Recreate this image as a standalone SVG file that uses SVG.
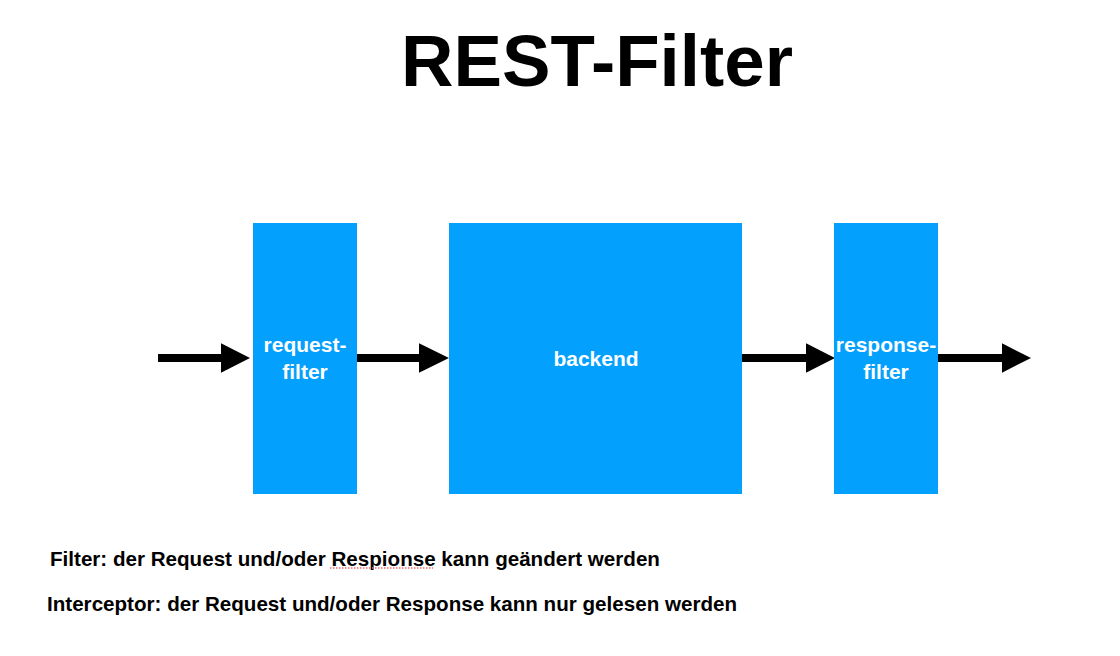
<svg xmlns="http://www.w3.org/2000/svg" width="1120" height="656" viewBox="0 0 1120 656">
  <style>
    .box { fill: #03A0FE; }
    .lbl { font-family: "Liberation Sans", Arial, Helvetica, sans-serif; font-weight: bold; font-size: 21px; fill: #ffffff; text-anchor: middle; }
    .note { font-family: "Liberation Sans", Arial, Helvetica, sans-serif; font-weight: bold; font-size: 20.6px; fill: #000000; }
    .title { font-family: "Liberation Sans", Arial, Helvetica, sans-serif; font-weight: bold; font-size: 73px; fill: #000000; }
    .shaft { stroke: #000000; stroke-width: 8; fill: none; }
    .head { fill: #000000; }
  </style>
  <rect width="1120" height="656" fill="#ffffff"/>
  <text class="title" x="401" y="86" textLength="392" lengthAdjust="spacingAndGlyphs">REST-Filter</text>

  <g id="connectors">
    <g id="arrow-in">
      <line class="shaft" x1="158" y1="358" x2="223" y2="358"/>
      <polygon class="head" points="221,343.3 250,358 221,372.7"/>
    </g>
    <g id="arrow-req-backend">
      <line class="shaft" x1="357" y1="358" x2="421" y2="358"/>
      <polygon class="head" points="419,343.3 449,358 419,372.7"/>
    </g>
    <g id="arrow-backend-resp">
      <line class="shaft" x1="742" y1="358" x2="808" y2="358"/>
      <polygon class="head" points="806,343.3 835,358 806,372.7"/>
    </g>
    <g id="arrow-out">
      <line class="shaft" x1="938" y1="358" x2="1004" y2="358"/>
      <polygon class="head" points="1002,343.3 1031,358 1002,372.7"/>
    </g>
  </g>

  <g id="request-filter">
    <rect class="box" x="253" y="223" width="104" height="271"/>
    <text class="lbl" x="305" y="352">request-</text>
    <text class="lbl" x="305" y="379">filter</text>
  </g>
  <g id="backend">
    <rect class="box" x="449" y="223" width="293" height="271"/>
    <text class="lbl" x="596" y="366">backend</text>
  </g>
  <g id="response-filter">
    <rect class="box" x="834" y="223" width="104" height="271"/>
    <text class="lbl" x="886" y="352">response-</text>
    <text class="lbl" x="886" y="379">filter</text>
  </g>

  <g id="notes">
    <text class="note" x="50" y="565.5">Filter: der Request und/oder Respionse kann geändert werden</text>
    <line x1="330" y1="568" x2="433" y2="568" stroke="#f06a6a" stroke-width="1.5" stroke-dasharray="1.5,1.5"/>
    <text class="note" x="47" y="610.5">Interceptor: der Request und/oder Response kann nur gelesen werden</text>
  </g>
</svg>
